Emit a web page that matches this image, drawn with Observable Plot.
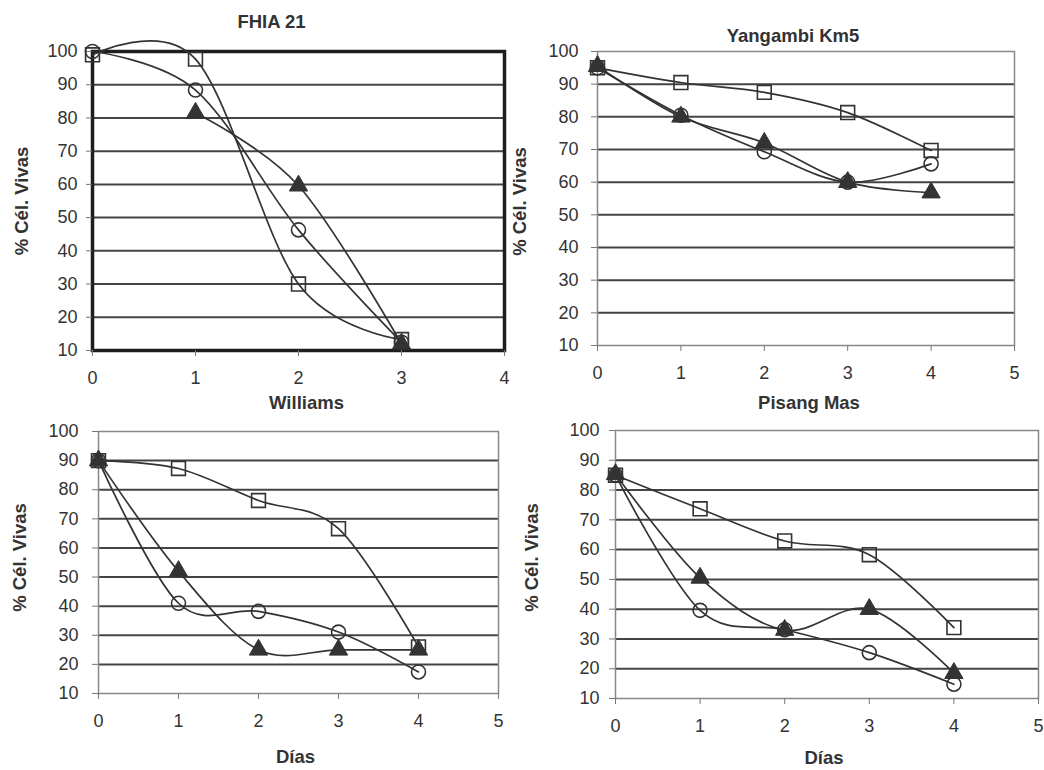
<!DOCTYPE html>
<html>
<head>
<meta charset="utf-8">
<script src="https://cdn.jsdelivr.net/npm/d3@7"></script>
<script src="https://cdn.jsdelivr.net/npm/@observablehq/plot@0.6"></script>
<style>
  html, body { margin: 0; padding: 0; background: #fff; }
  #wrap { position: relative; width: 1044px; height: 770px; background: #fff; overflow: hidden; }
  #wrap svg { position: absolute; }
</style>
</head>
<body>
<div id="wrap"></div>
<script>
// ---- data ----
const yLabel = "% Cél. Vivas";
const yTicks = [10, 20, 30, 40, 50, 60, 70, 80, 90, 100];
const gridValues = [20, 30, 40, 50, 60, 70, 80, 90];

// Panel 1: FHIA 21 / Williams
const fhiaDays = [0, 1, 2, 3];
const fhiaXTicks = [0, 1, 2, 3, 4];
const fhiaSquare = [99, 97.7, 30, 13.3];
const fhiaCircle = [100, 88.4, 46.3, 12.5];
const fhiaTriangle = [null, 81.5, 59.6, 12];

// Panel 2: Yangambi Km5 / Pisang Mas
const yangDays = [0, 1, 2, 3, 4];
const yangXTicks = [0, 1, 2, 3, 4, 5];
const yangSquare = [95, 90.5, 87.5, 81.3, 69.7];
const yangCircle = [95, 80.5, 69.3, 60, 65.6];
const yangTriangle = [95.5, 80, 72, 60, 56.8];

// Panel 3: Williams / Días
const willDays = [0, 1, 2, 3, 4];
const willXTicks = [0, 1, 2, 3, 4, 5];
const willSquare = [90, 87.3, 76.3, 66.6, 26];
const willCircle = [90, 41, 38.2, 31.1, 17.4];
const willTriangle = [90, 52, 25, 25, 25];

// Panel 4: Pisang Mas / Días
const pisDays = [0, 1, 2, 3, 4];
const pisXTicks = [0, 1, 2, 3, 4, 5];
const pisSquare = [85, 73.7, 62.9, 58.3, 33.8];
const pisCircle = [85, 39.6, 33.1, 25.4, 14.8];
const pisTriangle = [85.3, 50.5, 33, 40, 18.5];

// ---- drawing ----
const ink = "#333";
const font = "'Liberation Sans', Arial, sans-serif";

function rows(days, values) {
  return days.map((d, i) => ({ x: d, y: values[i] })).filter(r => r.y != null);
}

function panel(cfg) {
  const sq = rows(cfg.days, cfg.square);
  const ci = rows(cfg.days, cfg.circle);
  const tr = rows(cfg.days, cfg.triangle);
  const lab = { text: d => d, textAnchor: "middle", lineAnchor: "middle", fontWeight: "bold", fontSize: 18.5, fill: "#333" };
  const marks = [
    Plot.ruleY(gridValues, { stroke: "#444", strokeWidth: 2 }),
    Plot.frame({ stroke: cfg.frameStroke, strokeWidth: cfg.frameWidth }),
    Plot.axisX({ ticks: cfg.xTicks, tickSize: 6, tickPadding: 15, tickFormat: d => String(d), stroke: "#777", label: null, fontSize: 18 }),
    Plot.axisY({ ticks: yTicks, tickSize: 6, tickPadding: cfg.yPad, tickFormat: d => String(d), stroke: "#777", label: null, fontSize: 18 }),
    Plot.line(sq, { x: "x", y: "y", curve: "cardinal", stroke: ink, strokeWidth: 1.7 }),
    Plot.line(ci, { x: "x", y: "y", curve: "cardinal", stroke: ink, strokeWidth: 1.7 }),
    Plot.line(tr, { x: "x", y: "y", curve: "cardinal", stroke: ink, strokeWidth: 1.7 }),
    Plot.dot(sq, { x: "x", y: "y", symbol: "square", r: 7.8, stroke: ink, strokeWidth: 1.6, fill: "none" }),
    Plot.dot(ci, { x: "x", y: "y", symbol: "circle", r: 7, stroke: ink, strokeWidth: 1.6, fill: "none" }),
    Plot.dot(tr, { x: "x", y: "y", symbol: "triangle", r: 6.8, stroke: ink, strokeWidth: 1, fill: ink }),
    Plot.text([yLabel], { ...lab, frameAnchor: "left", rotate: -90, dx: cfg.yLabDx, dy: cfg.yLabDy })
  ];
  if (cfg.title) marks.push(Plot.text([cfg.title], { ...lab, frameAnchor: "top", dx: cfg.titleDx, dy: cfg.titleDy }));
  if (cfg.xLabel) marks.push(Plot.text([cfg.xLabel], { ...lab, frameAnchor: "bottom", dx: cfg.xLabDx, dy: cfg.xLabDy }));
  const svg = Plot.plot({
    width: cfg.width, height: cfg.height,
    marginLeft: cfg.ml, marginRight: cfg.mr, marginTop: cfg.mt, marginBottom: cfg.mb,
    x: { domain: [cfg.xTicks[0], cfg.xTicks[cfg.xTicks.length - 1]], label: null },
    y: { domain: [10, 100], label: null },
    style: { fontFamily: font, fontSize: "18px", color: "#333", background: "transparent", overflow: "visible" },
    marks
  });
  svg.style.left = cfg.left + "px";
  svg.style.top = cfg.top + "px";
  svg.style.overflow = "visible";
  document.getElementById("wrap").appendChild(svg);
}

panel({ left: 0, top: 0, width: 520, height: 415, ml: 92, mr: 16, mt: 51, mb: 65,
  days: fhiaDays, xTicks: fhiaXTicks, square: fhiaSquare, circle: fhiaCircle, triangle: fhiaTriangle,
  frameStroke: "#1e1e1e", frameWidth: 3.5, yPad: 9,
  title: "FHIA 21", titleDx: -27, titleDy: -29, xLabel: "Williams", xLabDx: 8, xLabDy: 53,
  yLabDx: -70, yLabDy: 0 });

panel({ left: 520, top: 0, width: 524, height: 415, ml: 77, mr: 30, mt: 51, mb: 70,
  days: yangDays, xTicks: yangXTicks, square: yangSquare, circle: yangCircle, triangle: yangTriangle,
  frameStroke: "#888", frameWidth: 1.5, yPad: 13,
  title: "Yangambi Km5", titleDx: -13, titleDy: -15, xLabel: "Pisang Mas", xLabDx: 3, xLabDy: 58,
  yLabDx: -77, yLabDy: 3 });

panel({ left: 0, top: 415, width: 520, height: 355, ml: 98, mr: 22, mt: 16, mb: 77,
  days: willDays, xTicks: willXTicks, square: willSquare, circle: willCircle, triangle: willTriangle,
  frameStroke: "#888", frameWidth: 1.5, yPad: 14,
  xLabel: "Días", xLabDx: -3, xLabDy: 64,
  yLabDx: -78, yLabDy: -5 });

panel({ left: 520, top: 415, width: 524, height: 355, ml: 95, mr: 6, mt: 15, mb: 72,
  days: pisDays, xTicks: pisXTicks, square: pisSquare, circle: pisCircle, triangle: pisTriangle,
  frameStroke: "#888", frameWidth: 1.5, yPad: 10,
  xLabel: "Días", xLabDx: -3, xLabDy: 60,
  yLabDx: -83, yLabDy: -7 });
</script>
</body>
</html>
